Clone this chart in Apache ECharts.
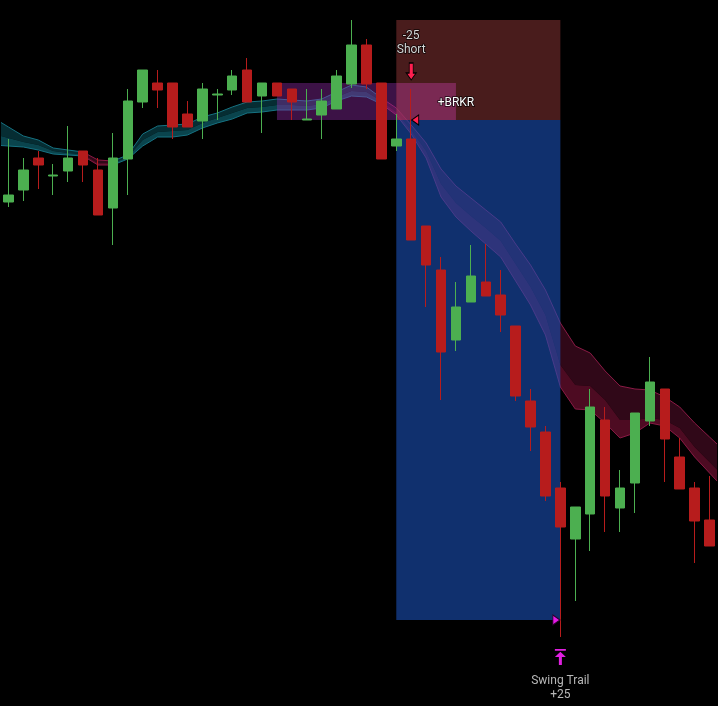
<!DOCTYPE html>
<html>
<head>
<meta charset="utf-8">
<script src="https://cdn.jsdelivr.net/npm/echarts/dist/echarts.min.js"></script>
<style>
html,body{margin:0;padding:0;background:#000;}
#main{width:718px;height:706px;}
</style>
</head>
<body>
<div id="main"></div>
<script>
// ---------- DATA ----------
const categories = ['09:30','09:31','09:32','09:33','09:34','09:35','09:36','09:37','09:38','09:39','09:40','09:41','09:42','09:43','09:44','09:45','09:46','09:47','09:48','09:49','09:50','09:51','09:52','09:53','09:54','09:55','09:56','09:57','09:58','09:59','10:00','10:01','10:02','10:03','10:04','10:05','10:06','10:07','10:08','10:09','10:10','10:11','10:12','10:13','10:14','10:15','10:16','10:17'];

const opens  = [17979.5,17982.5,17990.5,17986,17987.25,17992.25,17987.5,17978,17990.25,18004.5,18009.25,18009.25,18001.5,17999.75,18006.25,18007.5,18012.5,18006,18009.25,18007.75,18000,18001.25,18002.75,18009,18018.75,18009.25,17993.5,17995.25,17973.5,17962.5,17945,17954.5,17959.5,17956.25,17948.5,17929.75,17922,17908,17895.25,17901.5,17925,17903,17909.25,17924.75,17932.75,17915.75,17908,17900];
const closes = [17981.25,17987.5,17988.75,17986.25,17990.5,17988.75,17976.25,17990.5,18004.75,18012.5,18007.5,17998.25,17998.25,18007.75,18006.5,18011,18004.5,18009.25,18006,18004.5,18000.25,18004.75,18011,18018.75,18009,17990.25,17995.25,17970,17963.75,17942,17953.25,17961,17956,17951.25,17931,17923.25,17906,17898.25,17903.25,17928.25,17906,17908,17926.75,17934.5,17920.25,17907.75,17899.75,17893.5];
const lows   = [17978.25,17979.75,17982.75,17981.25,17984.5,17984.5,17976.25,17968.75,17981.25,18003,18003,17995.25,17998.25,17995.25,18000,18006.25,18004.5,17996.75,18006,18000,18000,17995.25,18002.75,18008,18007.75,17990.25,17992.25,17970,17953.25,17930,17942.25,17954.5,17956,17947,17929.75,17917.25,17904.75,17870.75,17879.75,17892.25,17897,17897,17901.75,17923.5,17909.5,17907.75,17889.25,17893.5];
const highs  = [17995.25,17990.5,17992.25,17989,17998.5,17992.25,17990.5,17996.75,18007.75,18012.5,18012.5,18009.25,18004.75,18009.25,18007.75,18012.5,18015.5,18009.25,18009.25,18007.75,18007.75,18007.75,18012.5,18025,18020.25,18009.25,18001.5,18007.75,17973.5,17965.75,17959.5,17968.75,17969,17962.5,17948.5,17932.75,17923.5,17909.5,17903.25,17932.75,17928.25,17912.5,17926.75,17940.75,17932.75,17920.5,17909.5,17911];

// trend band (three edges)
const bandUpper = [17998.25,17996,17995,17993,17992.5,17992,17990,17989.75,17991.25,17996.5,17998.5,17998.75,17999,18000.75,18001.75,18003.25,18004.5,18004.75,18005.25,18005,18004.75,18005.25,18007,18008.75,18008.25,18005.5,18003,17998.75,17994.25,17987.75,17983.5,17980.5,17977.5,17974.5,17969,17963.75,17957.5,17949.25,17943.5,17941.75,17937.25,17933.5,17932.75,17932.5,17930.75,17928.25,17924.25,17920.75];
const bandMid   = [17995.5,17994.5,17993.75,17992.25,17991.75,17991.5,17989.25,17989.25,17990.75,17995,17997,17997.25,17997.5,17999.25,18000.5,18001.75,18003,18003.25,18003.75,18003.75,18003.5,18004,18005.75,18007.25,18007,18004.75,18002,17997.5,17992.25,17984,17979.25,17976,17973,17969.75,17964,17958.25,17951.25,17938.75,17933.75,17933.5,17930,17925,17925,17925.5,17925,17923,17918.25,17914.5];
const bandLower = [17993.5,17993.25,17992.5,17991.5,17991.25,17991,17988.75,17988.75,17990.25,17993.5,17995.75,17995.75,17996.25,17998,17999.25,18000.25,18001.75,18002,18002.5,18002.5,18002.5,18003,18004.75,18006,18005.75,18004,18001.25,17996.5,17990.5,17980.75,17975.75,17972.25,17969,17965.75,17959.75,17953.75,17946.25,17933.25,17927.75,17927.5,17924.25,17920.5,17921.75,17924.25,17923.5,17920.5,17915.75,17911.75];
const bandSegments = [
  {from:0,  to:5,  trend:'up'},
  {from:5,  to:7,  trend:'down'},
  {from:7,  to:25, trend:'up'},
  {from:25, to:47, trend:'down'}
];

// trade levels
const entryIndex = 26, exitIndex = 37, signalIndex = 27, brkrLabelIndex = 30;
const entryPrice = 18000, stopPrice = 18025, targetPrice = 17875;
const brkrFromIndex = 18, brkrToIndex = 30, brkrTop = 18009.25;
const tradeRects = [
  {x0: entryIndex, x1: exitIndex, y0: stopPrice, y1: entryPrice, kind: 'stop'},
  {x0: entryIndex, x1: exitIndex, y0: entryPrice, y1: targetPrice, kind: 'target'},
  {x0: brkrFromIndex, x1: entryIndex, y0: brkrTop, y1: entryPrice, kind: 'brkr'},
  {x0: entryIndex, x1: brkrToIndex, y0: brkrTop, y1: entryPrice, kind: 'brkrOverStop'}
];

// ---------- STYLES ----------
const rectColors = {
  stop: 'rgba(122,46,46,0.6)',
  target: 'rgba(27,80,183,0.6)',
  brkr: 'rgba(150,45,175,0.4)',
  brkrOverStop: 'rgba(171,54,138,0.5)'
};
const bandPalette = {
  up:   {outer:'#062d33', inner:'#0a444d', edge:'#167282'},
  down: {outer:'#300818', inner:'#4d0b22', edge:'#8a1a45'}
};

const n = categories.length;
const candleData = opens.map((o,i)=>[o, closes[i], lows[i], highs[i]]);

function extend(arr, atStart, k){
  if (atStart){
    const p0=arr[0], p1=arr[1];
    arr.unshift([p0[0]-(p1[0]-p0[0])*k, p0[1]-(p1[1]-p0[1])*k]);
  } else {
    const p0=arr[arr.length-1], p1=arr[arr.length-2];
    arr.push([p0[0]+(p0[0]-p1[0])*k, p0[1]+(p0[1]-p1[1])*k]);
  }
}

function renderBand(params, api){
  const seg = bandSegments[params.dataIndex];
  const up=[], mid=[], lo=[];
  for (let i=seg.from;i<=seg.to;i++){
    up.push(api.coord([i, bandUpper[i]]));
    mid.push(api.coord([i, bandMid[i]]));
    lo.push(api.coord([i, bandLower[i]]));
  }
  if (seg.from===0) [up,mid,lo].forEach(a=>extend(a,true,0.7));
  if (seg.to===n-1) [up,mid,lo].forEach(a=>extend(a,false,0.7));
  const pal = bandPalette[seg.trend];
  return {type:'group', children:[
    {type:'polygon', shape:{points: up.concat(mid.slice().reverse())}, style:{fill: pal.outer}},
    {type:'polygon', shape:{points: mid.concat(lo.slice().reverse())}, style:{fill: pal.inner}},
    {type:'polyline', shape:{points: up}, style:{stroke: pal.edge, lineWidth:1, fill:null}},
    {type:'polyline', shape:{points: lo}, style:{stroke: pal.edge, lineWidth:1, fill:null}}
  ]};
}

function renderRect(params, api){
  const r = tradeRects[params.dataIndex];
  const a = api.coord([r.x0, r.y0]);
  const b = api.coord([r.x1, r.y1]);
  return {type:'rect', shape:{x:Math.min(a[0],b[0]), y:Math.min(a[1],b[1]), width:Math.abs(b[0]-a[0]), height:Math.abs(b[1]-a[1])}, style:{fill: rectColors[r.kind]}};
}

const textPoint = (coord, text, color) => ({
  coord: coord, symbol:'rect', symbolSize:1, itemStyle:{color:'rgba(0,0,0,0)'},
  label:{show:true, position:'inside', formatter:text, color:color, fontSize:12, fontFamily:'Roboto', lineHeight:14,
         textBorderColor:'rgba(0,0,0,0.8)', textBorderWidth:1.5}
});

const chart = echarts.init(document.getElementById('main'));
chart.setOption({
  backgroundColor:'#000',
  animation:false,
  grid:{left:1, right:1, top:0, bottom:0},
  xAxis:{type:'category', data:categories, show:false, boundaryGap:true},
  yAxis:{type:'value', min:17853.5, max:18030, show:false},
  series:[
    {type:'custom', name:'band', renderItem:renderBand, silent:true, z:1, clip:true,
     encode:{x:0,y:1}, data: bandSegments.map(s=>[s.from, bandUpper[s.from]])},
    {type:'custom', name:'trade', renderItem:renderRect, silent:true, z:2, clip:true,
     encode:{x:0,y:1}, data: tradeRects.map(r=>[r.x0, r.y0])},
    {type:'candlestick', name:'price', z:3, barWidth:10, data:candleData,
     itemStyle:{color:'#4caf50', color0:'#b71c1c', borderColor:'#4caf50', borderColor0:'#b71c1c', borderWidth:1},
     markPoint:{
       silent:true,
       data:[
         textPoint([categories[signalIndex], 18019.375], '-25\nShort', '#d6d6d6'),
         {coord:[categories[signalIndex], 18012.125], symbol:'path://M3,0 L7,0 L7,10 L10,10 L5,17 L0,10 L3,10 Z', symbolSize:[10,17],
          itemStyle:{color:'#ff1f4f', borderColor:'#000', borderWidth:1}, label:{show:false}},
         {coord:[categories[signalIndex], entryPrice], symbol:'triangle', symbolSize:[10,7], symbolRotate:90, symbolOffset:[4,0],
          itemStyle:{color:'#ff1f4f', borderColor:'#000', borderWidth:1}, label:{show:false}},
         textPoint([categories[brkrLabelIndex], 18004.375], '+BRKR', '#ffffff'),
         {coord:[categories[exitIndex], targetPrice], symbol:'triangle', symbolSize:[10,7], symbolRotate:-90, symbolOffset:[-4,0],
          itemStyle:{color:'#e619e6', borderColor:'#2a002a', borderWidth:1}, label:{show:false}},
         {coord:[categories[exitIndex], 17865.75], symbol:'path://M0,0 L11,0 L11,1.8 L0,1.8 Z M5.5,2.8 L11,8 L7,8 L7,16 L4,16 L4,8 L0,8 Z', symbolSize:[11,16],
          itemStyle:{color:'#e020e0'}, label:{show:false}},
         textPoint([categories[exitIndex], 17858.125], 'Swing Trail\n+25', '#b8b8b8')
       ]
     }
    }
  ]
});
</script>
</body>
</html>
